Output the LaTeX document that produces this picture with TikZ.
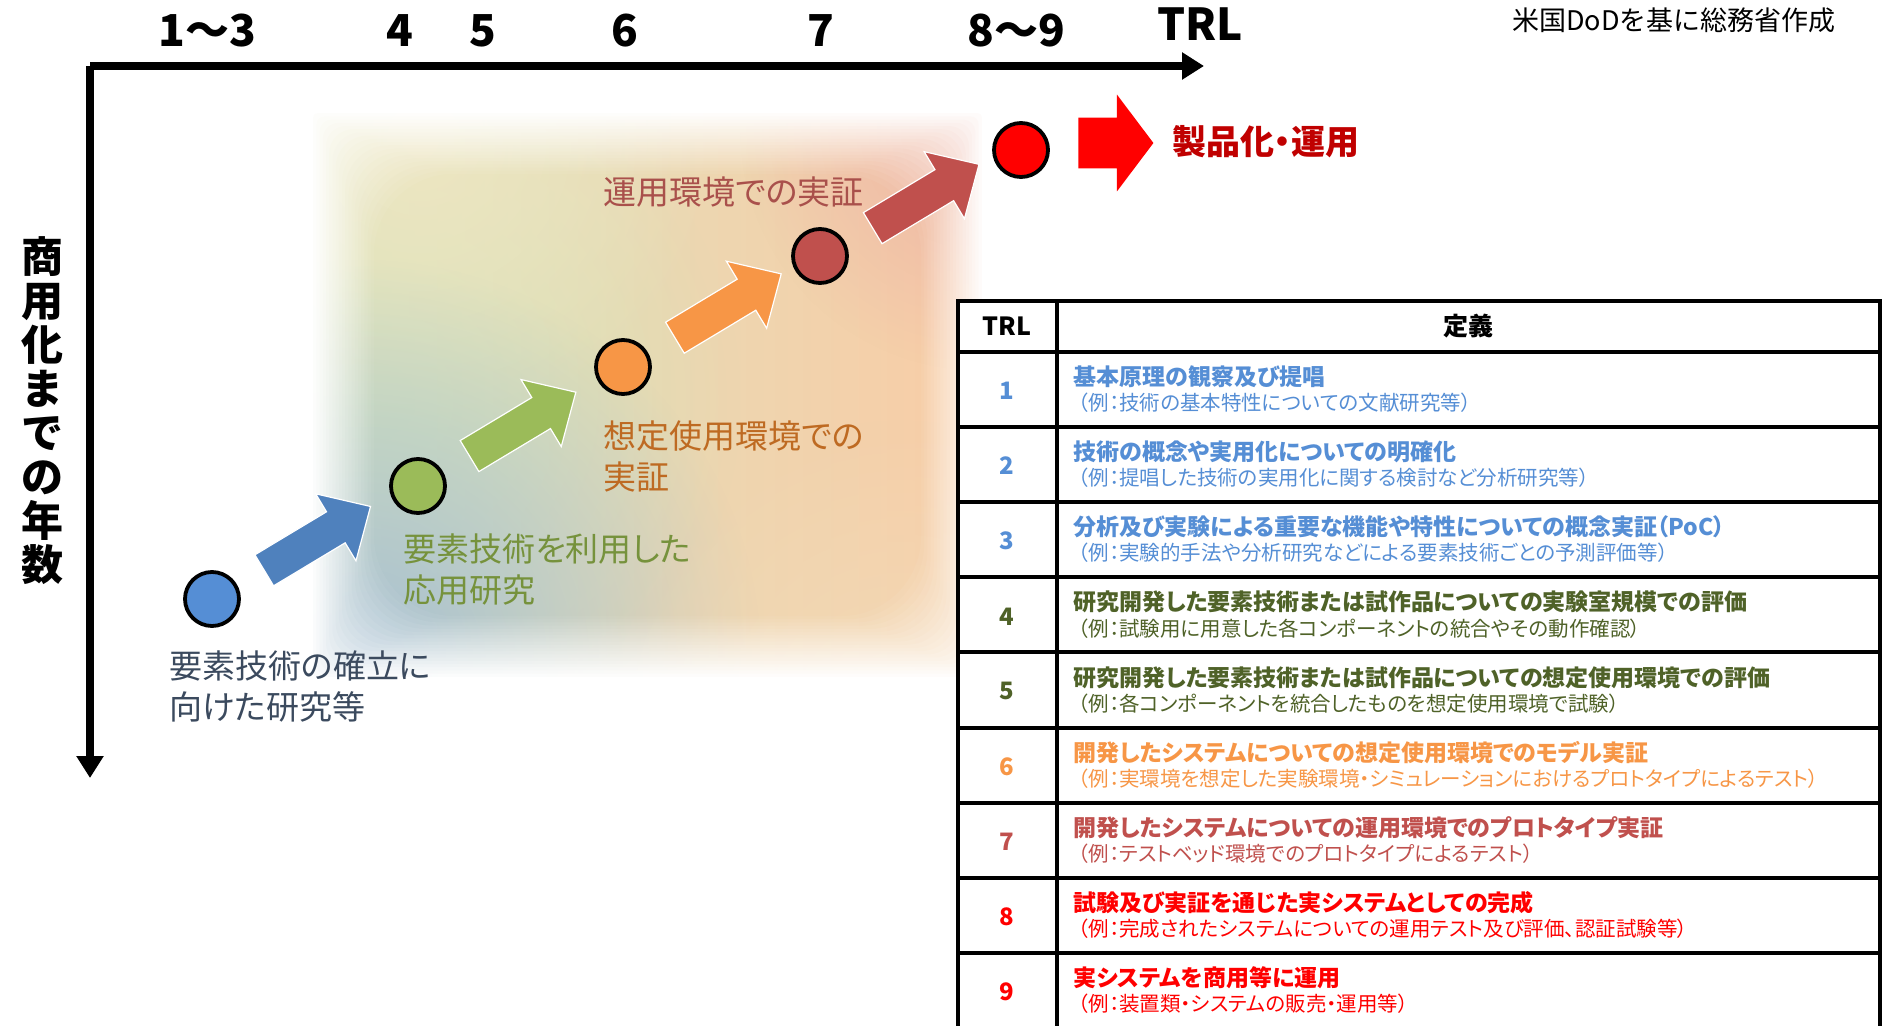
\documentclass[tikz,border=0pt]{standalone}
\usepackage{fontspec}
\setmainfont{Noto Sans CJK JP}
\newfontfamily\pfont{Noto Sans CJK JP}[RawFeature=+palt]
\usetikzlibrary{shapes.arrows,fadings,calc,arrows.meta}

\definecolor{ablue}{HTML}{4F81BD}
\definecolor{cblue}{HTML}{558ED5}
\definecolor{cgreen}{HTML}{9BBB59}
\definecolor{corange}{HTML}{F79646}
\definecolor{cbrick}{HTML}{C0504D}
\definecolor{cred}{HTML}{FF0000}
\definecolor{tblue}{HTML}{558ED5}
\definecolor{tolive}{HTML}{4F6228}
\definecolor{torange}{HTML}{F79646}
\definecolor{tbrick}{HTML}{C0504D}
\definecolor{tred}{HTML}{FF0000}
\definecolor{lblue}{HTML}{3B4A5E}
\definecolor{lgreen}{HTML}{76923C}
\definecolor{lorange}{HTML}{BE6A22}
\definecolor{lbrick}{HTML}{A9504B}
\definecolor{dred}{HTML}{C00000}
\definecolor{bgleft}{HTML}{DCE4BE}
\definecolor{bgmid}{HTML}{EAD9B0}
\definecolor{bgright}{HTML}{F9CCA6}
\definecolor{glowblue}{HTML}{A6BFD2}
\definecolor{glowpink}{HTML}{EDB4A6}
\definecolor{glowcream}{HTML}{EEE6C2}
\definecolor{glowgreen}{HTML}{D6E4BA}
\definecolor{glowtan}{HTML}{F1DEBC}

\tikzfading[name=glow, inner color=transparent!0, outer color=transparent!100]
\tikzfading[name=softglow, inner color=transparent!35, outer color=transparent!100]

\begin{tikzfadingfrompicture}[name=softframe, x=0.5pt, y=0.5pt]
  \fill[transparent!0] (-343.5,-291) rectangle (343.5,291);
  \foreach \i in {1,...,20}{
    \pgfmathtruncatemacro\pct{\i*5}
    \pgfmathsetmacro\rc{\i*2}
    \pgfmathsetmacro\ins{6+\i*3.2}
    \fill[transparent!\pct, rounded corners=\rc pt] (-343.5+\ins,-291+\ins) rectangle (343.5-\ins,291-\ins);
  }
\end{tikzfadingfrompicture}

\begin{document}
\begin{tikzpicture}[x=0.5pt,y=-0.5pt,
  axisline/.style={line width=4pt, -{Triangle[length=11pt,width=13pt]}},
  dot/.style={circle, draw=black, line width=1.9pt, minimum size=27pt, inner sep=0pt},
  stagearrow/.style={single arrow, draw=white, line width=0.6pt, minimum height=62pt,
    minimum width=38.5pt, inner xsep=0pt, inner ysep=8.75pt,
    single arrow head extend=10.5pt, single arrow tip angle=88, anchor=tail, rotate=31},
  toplab/.style={font=\bfseries\fontsize{22pt}{26pt}\selectfont, inner sep=0pt},
  stagelab/.style={font=\pfont\fontsize{16.5pt}{20.5pt}\selectfont, align=left, anchor=north west, inner sep=0pt},
  tline/.style={line width=2pt, draw=black},
  hdr/.style={font=\bfseries\fontsize{12.5pt}{15pt}\selectfont, inner sep=0pt},
  numtxt/.style={font=\bfseries\fontsize{12pt}{14pt}\selectfont, inner sep=0pt},
  ttltxt/.style={font=\pfont\bfseries\fontsize{11.5pt}{13pt}\selectfont, anchor=west, inner sep=0pt},
  extxt/.style={font=\pfont\fontsize{10.25pt}{12pt}\selectfont, anchor=west, inner sep=0pt}
]
\useasboundingbox (0,0) rectangle (1882,1026);
\clip (0,0) rectangle (1882,1026);

% soft background blob
\begin{scope}
  \clip (310,110) rectangle (985,680);
  \shade[left color=bgleft, middle color=bgmid, right color=bgright] (310,110) rectangle (985,680);
  \fill[glowgreen, path fading=glow] (20,40) rectangle (740,760);
  \fill[glowcream, path fading=glow] (120,-160) rectangle (720,440);
  \fill[glowblue, path fading=glow] (-40,260) rectangle (760,1060);
  \fill[glowtan, path fading=softglow] (600,420) rectangle (1200,1020);
  \fill[glowpink, path fading=glow] (740,-110) rectangle (1220,370);
\end{scope}
\fill[white, path fading=softframe, fit fading=false, fading transform={shift={(647.5,395)}}]
  (304,104) rectangle (991,686);

% axes
\coordinate (O) at (90,66);
\coordinate (xend) at (1204,66);
\coordinate (yend) at (90,778);
\draw[axisline] (O) -- (xend);
\draw[axisline] (O) -- (yend);

\node[toplab] (x13) at (207,31) {1～3};
\node[toplab] (x4) at (400,31) {4};
\node[toplab] (x5) at (483,31) {5};
\node[toplab] (x6) at (625,31) {6};
\node[toplab] (x7) at (821,31) {7};
\node[toplab] (x89) at (1016,31) {8～9};
\node[font=\bfseries\fontsize{22pt}{26pt}\selectfont, inner sep=0pt] (xtrl) at (1200,24) {TRL};

\node[font=\fontsize{13.5pt}{16pt}\selectfont, anchor=east, inner sep=0pt] (src) at (1836,20) {米国DoDを基に総務省作成};

\node[font=\bfseries\fontsize{21pt}{22pt}\selectfont, align=center, inner sep=0pt] (ylab) at (42,411)
  {商\\用\\化\\ま\\で\\の\\年\\数};

% circles
\node[dot, fill=cblue] (c1) at (212,599) {};
\node[dot, fill=cgreen] (c2) at (418,486) {};
\node[dot, fill=corange] (c3) at (623,367) {};
\node[dot, fill=cbrick] (c4) at (820,256) {};
\node[dot, fill=cred] (c5) at (1021,150) {};

% arrows between stages
\node[stagearrow, fill=ablue] (a1) at ($(c1)!29.5pt!(c2)$) {};
\node[stagearrow, fill=cgreen] (a2) at ($(c2)!29.5pt!(c3)$) {};
\node[stagearrow, fill=corange] (a3) at ($(c3)!29.5pt!(c4)$) {};
\node[stagearrow, fill=cbrick] (a4) at ($(c4)!29.5pt!(c5)$) {};

\node[single arrow, fill=cred, minimum height=37.5pt, minimum width=48pt, inner xsep=0pt,
  inner ysep=12.5pt, single arrow head extend=11.5pt, single arrow tip angle=106,
  anchor=tail] (big) at ($(c5)+(57,-7)$) {};
\node[font=\pfont\bfseries\fontsize{17pt}{20pt}\selectfont, text=dred, anchor=west, inner sep=0pt]
  (prod) at (1172,142) {製品化・運用};

% stage labels
\node[stagelab, text=lblue] (s1) at (169,650) {要素技術の確立に\\向けた研究等};
\node[stagelab, text=lgreen] (s2) at (403,533) {要素技術を利用した\\応用研究};
\node[stagelab, text=lorange] (s3) at (603,420) {想定使用環境での\\実証};
\node[stagelab, text=lbrick] (s4) at (603,176) {運用環境での実証};

% table
\fill[white] (958,301) rectangle (1880,1040);
\foreach \k in {0,...,8}{
  \draw[tline] (958,{352+\k*75.1}) -- (1880,{352+\k*75.1});
}
\draw[tline] (958,301) rectangle (1880,1040);
\draw[tline] (1057,301) -- (1057,1040);
\node[hdr] (hTRL) at (1007,326) {TRL};
\node[hdr] (hdef) at (1468,326) {定義};

\foreach \n/\col/\ttl/\ex [count=\k from 0] in {
  1/tblue/基本原理の観察及び提唱/（例：技術の基本特性についての文献研究等）,
  2/tblue/技術の概念や実用化についての明確化/（例：提唱した技術の実用化に関する検討など分析研究等）,
  3/tblue/分析及び実験による重要な機能や特性についての概念実証（PoC）/（例：実験的手法や分析研究などによる要素技術ごとの予測評価等）,
  4/tolive/研究開発した要素技術または試作品についての実験室規模での評価/（例：試験用に用意した各コンポーネントの統合やその動作確認）,
  5/tolive/研究開発した要素技術または試作品についての想定使用環境での評価/（例：各コンポーネントを統合したものを想定使用環境で試験）,
  6/torange/開発したシステムについての想定使用環境でのモデル実証/（例：実環境を想定した実験環境・シミュレーションにおけるプロトタイプによるテスト）,
  7/tbrick/開発したシステムについての運用環境でのプロトタイプ実証/（例：テストベッド環境でのプロトタイプによるテスト）,
  8/tred/試験及び実証を通じた実システムとしての完成/（例：完成されたシステムについての運用テスト及び評価、認証試験等）,
  9/tred/実システムを商用等に運用/（例：装置類・システムの販売・運用等）}{
  \node[numtxt, text=\col] (n\n) at (1007,{352+\k*75.1+39}) {\n};
  \node[ttltxt, text=\col] (t\n) at (1073,{352+\k*75.1+25}) {\ttl};
  \node[extxt, text=\col] (e\n) at (1078,{352+\k*75.1+51}) {\ex};
}
\end{tikzpicture}
\end{document}
